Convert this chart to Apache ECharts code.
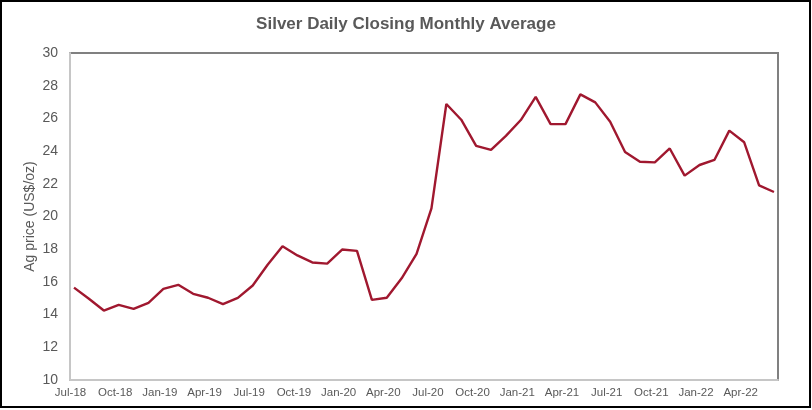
<!DOCTYPE html>
<html>
<head>
<meta charset="utf-8">
<script src="https://cdn.jsdelivr.net/npm/echarts@6/dist/echarts.min.js"></script>
<style>
  html, body { margin: 0; padding: 0; background: #fff; }
  .frame {
    position: absolute; left: 0; top: 0;
    width: 811px; height: 408px;
    box-sizing: border-box;
    border: 2px solid #000;
  }
  #chart { position: absolute; left: 0; top: 0; width: 812px; height: 410px; }
</style>
</head>
<body>
<div id="chart"></div>
<div class="frame"></div>
<script>
// monthly categories Jul-18 .. Jun-22
const months = [
  'Jul-18', 'Aug-18', 'Sep-18', 'Oct-18', 'Nov-18', 'Dec-18',
  'Jan-19', 'Feb-19', 'Mar-19', 'Apr-19', 'May-19', 'Jun-19',
  'Jul-19', 'Aug-19', 'Sep-19', 'Oct-19', 'Nov-19', 'Dec-19',
  'Jan-20', 'Feb-20', 'Mar-20', 'Apr-20', 'May-20', 'Jun-20',
  'Jul-20', 'Aug-20', 'Sep-20', 'Oct-20', 'Nov-20', 'Dec-20',
  'Jan-21', 'Feb-21', 'Mar-21', 'Apr-21', 'May-21', 'Jun-21',
  'Jul-21', 'Aug-21', 'Sep-21', 'Oct-21', 'Nov-21', 'Dec-21',
  'Jan-22', 'Feb-22', 'Mar-22', 'Apr-22', 'May-22', 'Jun-22'
]
// Ag price, US$/oz
const prices = [
  15.65, 14.97, 14.25, 14.60, 14.35, 14.72,
  15.57, 15.82, 15.27, 15.03, 14.64, 15.02,
  15.78, 17.05, 18.18, 17.62, 17.19, 17.12,
  17.98, 17.90, 14.90, 15.03, 16.22, 17.72,
  20.50, 26.88, 25.92, 24.32, 24.07, 24.93,
  25.90, 27.32, 25.65, 25.65, 27.47, 26.98,
  25.80, 23.95, 23.35, 23.31, 24.16, 22.50,
  23.15, 23.46, 25.25, 24.54, 21.90, 21.50
]
// x positions that carry a tick label
const xLabelIdx = [0, 3, 6, 9, 12, 15, 18, 21, 24, 27, 30, 33, 36, 39, 42, 45]

const yTicks = { min: 10, max: 30, step: 2 }

const chart = echarts.init(document.getElementById('chart'), null, { renderer: 'canvas' })

const option = {
  animation: false,
  backgroundColor: '#fff',
  title: {
    text: 'Silver Daily Closing Monthly Average',
    left: 'center',
    top: 11,
    textStyle: {
      fontFamily: 'Liberation Sans, Arial, sans-serif',
      fontSize: 17,
      fontWeight: 'bold',
      color: '#595959'
    }
  },
  grid: {
    show: true,
    left: 70,
    right: 34,
    top: 53,
    bottom: 30,
    borderColor: '#808080',
    borderWidth: 2,
    backgroundColor: 'transparent'
  },
  xAxis: {
    type: 'value',
    min: -0.27,
    max: 47.27,
    axisLine: { show: true, onZero: false, lineStyle: { color: '#c6c6c6', width: 2 } },
    axisTick: { show: false },
    splitLine: { show: false },
    axisLabel: {
      customValues: xLabelIdx,
      formatter: v => months[Math.round(v)],
      fontFamily: 'Liberation Sans, Arial, sans-serif',
      fontSize: 11.5,
      color: '#595959',
      margin: 7,
      padding: [0, 7, 0, 0]
    }
  },
  yAxis: {
    type: 'value',
    min: yTicks.min,
    max: yTicks.max,
    interval: yTicks.step,
    name: 'Ag price (US$/oz)',
    nameLocation: 'middle',
    nameGap: 33,
    nameMoveOverlap: false,
    nameTextStyle: {
      fontFamily: 'Liberation Sans, Arial, sans-serif',
      fontSize: 14,
      color: '#595959'
    },
    axisLine: { show: true, onZero: false, lineStyle: { color: '#c6c6c6', width: 2 } },
    axisTick: { show: false },
    splitLine: { show: false },
    axisLabel: {
      fontFamily: 'Liberation Sans, Arial, sans-serif',
      fontSize: 14,
      color: '#595959',
      margin: 12
    }
  },
  series: [
    {
      type: 'line',
      symbol: 'none',
      lineStyle: { color: '#a0182f', width: 2.4 },
      data: prices.map((v, i) => [i, v])
    }
  ]
}
chart.setOption(option)
</script>
</body>
</html>
